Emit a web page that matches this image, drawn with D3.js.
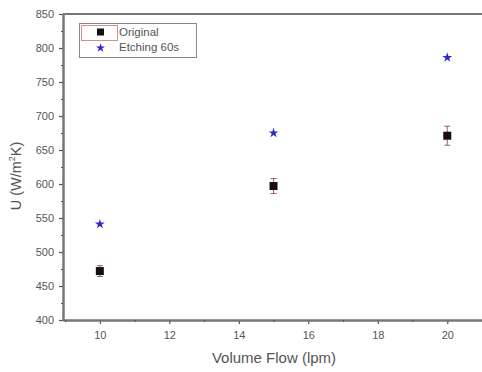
<!DOCTYPE html>
<html><head><meta charset="utf-8">
<script src="https://cdn.jsdelivr.net/npm/d3@7"></script>
<style>body{margin:0;background:#fff}svg{display:block}text{font-family:"Liberation Sans",Arial,sans-serif;fill:#555}</style>
</head><body><svg id="c" width="482" height="372"></svg>
<script>
const flow = [10, 15, 20];
const original = [472, 597, 671];
const originalErr = [8, 11, 14];
const etching = [541, 675, 786];
const xTicks = [10, 12, 14, 16, 18, 20];
const yTicks = [400, 450, 500, 550, 600, 650, 700, 750, 800, 850];
const seriesNames = ["Original", "Etching 60s"];

const svg = d3.select("#c");
const m = {l: 63, t: 14, r: 0, b: 52};
const W = 482, H = 372;
const x = d3.scaleLinear().domain([8.94, 21]).range([m.l, W - m.r]);
const y = d3.scaleLinear().domain([400, 850]).range([H - m.b, m.t]);
const axisColor = "#777";

// frame top
svg.append("line").attr("x1", m.l).attr("x2", W).attr("y1", y(850)).attr("y2", y(850))
  .attr("stroke", axisColor).attr("stroke-width", 2);

// x axis
const gx = svg.append("g").attr("transform", `translate(0,${y(400)})`)
  .call(d3.axisBottom(x).tickValues(xTicks).tickSize(4).tickSizeOuter(0));
svg.append("g").attr("transform", `translate(0,${y(400)})`)
  .call(d3.axisBottom(x).tickValues(d3.range(9, 22, 2)).tickSize(2).tickFormat("").tickSizeOuter(0));
// y axis
const gy = svg.append("g").attr("transform", `translate(${m.l},0)`)
  .call(d3.axisLeft(y).tickValues(yTicks).tickSize(4).tickSizeOuter(0));
svg.append("g").attr("transform", `translate(${m.l},0)`)
  .call(d3.axisLeft(y).tickValues(d3.range(425, 850, 50)).tickSize(2).tickFormat("").tickSizeOuter(0));
svg.selectAll(".domain").attr("stroke", axisColor).attr("stroke-width", 2);
svg.selectAll(".tick line").attr("stroke", "#555").attr("stroke-width", 1.2);
svg.selectAll(".tick text").attr("font-size", 11).attr("fill", "#666")
  .attr("font-family", "Liberation Sans, Arial, sans-serif");
gx.selectAll(".tick text").attr("dy", "1.05em");
gy.selectAll(".tick text").attr("dx", "-2");

// labels
svg.append("text").attr("x", 274).attr("y", 363).attr("text-anchor", "middle")
  .attr("font-size", 15).text("Volume Flow (lpm)");
const yl = svg.append("text").attr("transform", `translate(21,176) rotate(-90)`)
  .attr("text-anchor", "middle").attr("font-size", 14.5);
yl.append("tspan").text("U (W/m");
yl.append("tspan").attr("font-size", 9).attr("dy", -6).text("2");
yl.append("tspan").attr("dy", 6).text("K)");

// error bars
const eb = svg.append("g").attr("stroke", "#a06060").attr("stroke-width", 1);
flow.forEach((f, i) => {
  const lo = y(original[i] - originalErr[i]), hi = y(original[i] + originalErr[i]);
  eb.append("line").attr("x1", x(f)).attr("x2", x(f)).attr("y1", lo).attr("y2", hi);
  eb.append("line").attr("x1", x(f) - 3).attr("x2", x(f) + 3).attr("y1", lo).attr("y2", lo);
  eb.append("line").attr("x1", x(f) - 3).attr("x2", x(f) + 3).attr("y1", hi).attr("y2", hi);
});

// markers
const star = d3.symbol().type(d3.symbolStar).size(30);
svg.append("g").selectAll("rect").data(flow).join("rect")
  .attr("x", d => x(d) - 4).attr("y", (d, i) => y(original[i]) - 4)
  .attr("width", 8).attr("height", 8).attr("fill", "#111");
svg.append("g").selectAll("path").data(flow).join("path")
  .attr("d", star).attr("transform", (d, i) => `translate(${x(d)},${y(etching[i])})`)
  .attr("fill", "#2a2ac8");

// legend
const lg = svg.append("g");
lg.append("rect").attr("x", 79.5).attr("y", 23.5).attr("width", 117).attr("height", 34)
  .attr("fill", "#fff").attr("stroke", "#888").attr("stroke-width", 1);
lg.append("rect").attr("x", 81.5).attr("y", 25.5).attr("width", 36).attr("height", 15)
  .attr("fill", "none").attr("stroke", "#d09090").attr("stroke-width", 1);
lg.append("rect").attr("x", 97).attr("y", 28.5).attr("width", 7).attr("height", 7).attr("fill", "#111");
lg.append("path").attr("d", d3.symbol().type(d3.symbolStar).size(25)).attr("transform", "translate(100.5,48)").attr("fill", "#2a2ac8");
lg.selectAll("text.lt").data(seriesNames).join("text").attr("class", "lt")
  .attr("x", 119).attr("y", (d, i) => 36 + i * 15).attr("font-size", 11.5).attr("fill", "#444").text(d => d);
</script></body></html>
